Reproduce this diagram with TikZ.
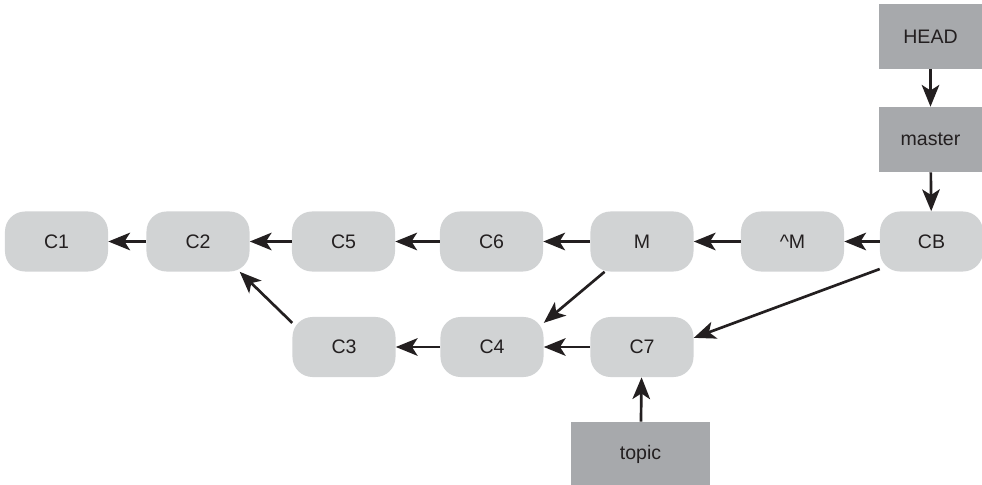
\documentclass[tikz,border=0pt]{standalone}
\usepackage{fontspec}
\setmainfont{Liberation Sans}
\usetikzlibrary{arrows.meta}
\definecolor{commitfill}{HTML}{D1D3D4}
\definecolor{reffill}{HTML}{A7A9AC}
\definecolor{diagramink}{HTML}{231F20}

\begin{document}
\begin{tikzpicture}[x=0.025cm, y=-0.025cm,
                    >={Stealth[length=15.5pt, width=12.5pt, inset=4pt]},
                    every node/.style={text=diagramink, font=\fontsize{13.9}{16}\selectfont},
                    commit/.style={fill=commitfill, rounded corners=0.5cm, inner sep=0pt,
                                   minimum width=2.575cm, minimum height=1.5cm},
                    ref/.style={fill=reffill, inner sep=0pt,
                                minimum width=2.575cm, minimum height=1.625cm},
                    link/.style={diagramink, line width=1.9pt, ->}]

  \useasboundingbox (0,0) rectangle (982,485);

  %% commits, upper row
  \node[commit] (c1)    at (56.5,241.5)  {C1};
  \node[commit] (c2)    at (198,241.5)   {C2};
  \node[commit] (c5)    at (343.5,241.5) {C5};
  \node[commit] (c6)    at (491.5,241.5) {C6};
  \node[commit] (m)     at (642,241.5)   {M};
  \node[commit] (antim) at (792.5,241.5) {\textasciicircum M};
  \node[commit] (cb)    at (931.5,241.5) {CB};

  %% commits, lower row
  \node[commit] (c3) at (344,347) {C3};
  \node[commit] (c4) at (492,347) {C4};
  \node[commit] (c7) at (642,347) {C7};

  %% refs
  \node[ref] (head)   at (930.5,36.5)  {HEAD};
  \node[ref] (master) at (930.5,139.5) {master};
  \node[ref, minimum width=3.475cm] (topic) at (640.5,454.5) {topic};

  %% parent links
  \draw[link] (c2)    -- (c1);
  \draw[link] (c5)    -- (c2);
  \draw[link] (c6)    -- (c5);
  \draw[link] (m)     -- (c6);
  \draw[link] (antim) -- (m);
  \draw[link] (cb)    -- (antim);
  \draw[link] (c4)    -- (c3);
  \draw[link] (c7)    -- (c4);
  \draw[link] (c3.155) -- (c2.-36);
  \draw[link] (m.219)  -- (c4.25);
  \draw[link] (cb.208) -- (c7.10);

  %% ref pointers
  \draw[link] (head)   -- (master);
  \draw[link] (master) -- (cb);
  \draw[link] (topic)  -- (c7);

\end{tikzpicture}
\end{document}
